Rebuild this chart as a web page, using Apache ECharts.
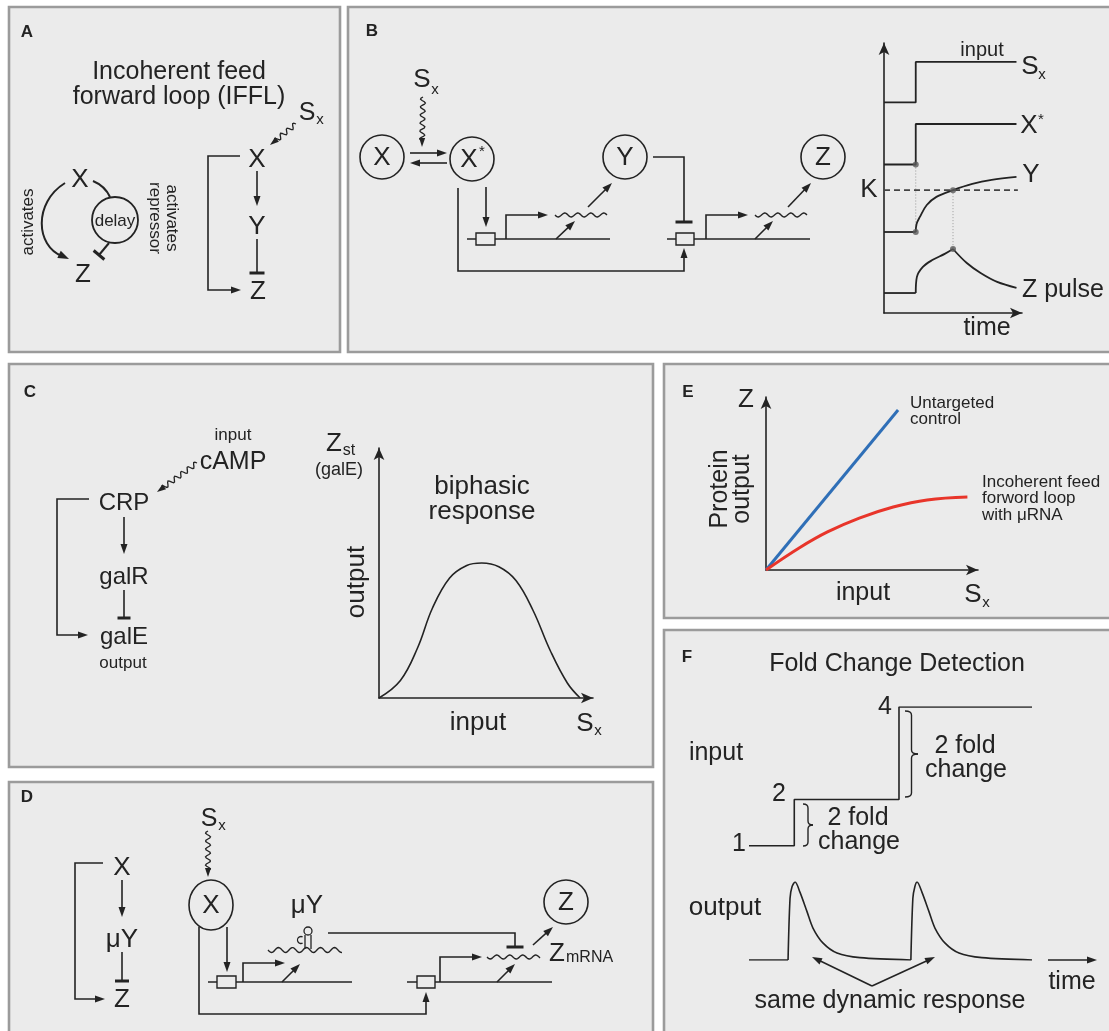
<!DOCTYPE html>
<html><head><meta charset="utf-8">
<script src="https://cdn.jsdelivr.net/npm/echarts@6/dist/echarts.min.js"></script>
<style>html,body{margin:0;padding:0;background:#fff}#c{width:1109px;height:1031px}</style>
</head><body><div id="c"></div>
<script>
// ---------------- DATA ----------------
// Panel B (time courses)
const bInputT = [0, 2.3, 2.3, 9.6];
const bInputV = [7.8, 7.8, 9.3, 9.3];
const bXstarT = [0, 2.3, 2.3, 9.6];
const bXstarV = [5.5, 5.5, 7.0, 7.0];
const bYBaseT = [0, 2.3];
const bYBaseV = [3.0, 3.0];
const bYRiseT = [2.3, 2.36, 2.6, 3.1, 3.8, 5.0, 6.4, 7.8, 9.6];
const bYRiseV = [3.0, 3.3, 3.56, 4.0, 4.3, 4.55, 4.78, 4.93, 5.04];
const bKLevel = 4.55;
const bKRange = [0, 9.7];
const bZBaseT = [0, 2.3];
const bZBaseV = [0.74, 0.74];
const bZRiseT = [2.3, 2.38, 2.8, 3.5, 4.4, 5.0];
const bZRiseV = [0.74, 1.33, 1.7, 1.96, 2.19, 2.37];
const bZDecayT = [5.0, 6.0, 7.0, 8.2, 9.6];
const bZDecayV = [2.37, 1.85, 1.48, 1.15, 0.93];
const bDotT = [2.3, 2.3, 5.0, 5.0];
const bDotV = [5.5, 3.0, 4.55, 2.37];
// Panel C (biphasic response)
const cInput = [0, 1, 1.8, 2.5, 3.3, 4.1, 4.8, 5.6, 6.4, 7.2, 8.0, 8.8, 9.4];
const cOutput = [0, 0.7, 2.0, 3.6, 4.8, 5.3, 5.4, 5.25, 4.7, 3.5, 1.9, 0.6, 0];
// Panel E
const eControlX = [0, 6.23];
const eControlY = [0, 9.25];
const eIfflX = [0, 1.6, 2.9, 4.4, 6.0, 7.6, 9.5];
const eIfflY = [0, 1.3, 2.2, 3.0, 3.64, 4.05, 4.22];
// Panel F
const fInputT = [0, 1.6, 1.6, 5.3, 5.3, 10];
const fInputV = [1, 1, 2, 2, 4, 4];
const fStepLabels = ['1', '2', '4'];
const fOutT = [0, 1.38, 1.45, 1.52, 1.63, 1.80, 2.05, 2.26, 2.61, 3.11, 3.92, 5.72, 5.79, 5.86, 5.94, 6.11, 6.36, 6.57, 6.92, 7.42, 8.23, 10];
const fOutV = [0, 0, 0.79, 0.94, 1.0, 0.87, 0.62, 0.41, 0.22, 0.09, 0.03, 0, 0.79, 0.94, 1.0, 0.87, 0.62, 0.41, 0.22, 0.09, 0.03, 0];

// ---------------- HELPERS ----------------
const INK = '#232323';
const FF = "'Liberation Sans', Arial, Helvetica, sans-serif";
const PANEL_BG = '#ebebeb';
const G = [];
const zip = (a, b) => a.map((v, i) => [v, b[i]]);
function T(str, x, y, size, o = {}) {
  const al = o.align || 'center';
  G.push({type: 'text', x, y, rotation: o.rot || 0, silent: true, z: 5,
    style: {text: str, fill: o.color || INK, font: (o.bold ? 'bold ' : '') + size + 'px ' + FF,
      textAlign: al, align: al, textVerticalAlign: 'middle', verticalAlign: 'middle'}});
}
function L(pts, w = 1.6, o = {}) {
  G.push({type: 'polyline', silent: true, z: 4, shape: {points: pts},
    style: {stroke: o.color || INK, lineWidth: w, fill: 'none', lineDash: o.dash || null}});
}
function head(x, y, ang, len = 10, wid = 7) {
  const bx = x - len * Math.cos(ang), by = y - len * Math.sin(ang);
  const px = -Math.sin(ang) * wid / 2, py = Math.cos(ang) * wid / 2;
  G.push({type: 'polygon', silent: true, z: 4, shape: {points: [[x, y], [bx + px, by + py], [bx - px, by - py]]},
    style: {fill: INK, stroke: 'none'}});
}
function A(pts, w = 1.6, len = 10, wid = 7) {
  const n = pts.length;
  const [x2, y2] = pts[n - 1], [x1, y1] = pts[n - 2];
  const ang = Math.atan2(y2 - y1, x2 - x1);
  const p = pts.slice();
  p[n - 1] = [x2 - len * 0.7 * Math.cos(ang), y2 - len * 0.7 * Math.sin(ang)];
  L(p, w); head(x2, y2, ang, len, wid);
}
function TB(pts, barLen = 15, w = 1.6, bw = 3) {
  L(pts, w);
  const n = pts.length;
  const [x2, y2] = pts[n - 1], [x1, y1] = pts[n - 2];
  const ang = Math.atan2(y2 - y1, x2 - x1);
  const px = -Math.sin(ang) * barLen / 2, py = Math.cos(ang) * barLen / 2;
  L([[x2 + px, y2 + py], [x2 - px, y2 - py]], bw);
}
function wavePts(x1, y1, x2, y2, amp, wl) {
  const dx = x2 - x1, dy = y2 - y1, d = Math.hypot(dx, dy);
  const ux = dx / d, uy = dy / d, nx = -uy, ny = ux;
  const n = Math.ceil(d / 1.2), pts = [];
  for (let i = 0; i <= n; i++) {
    const s = i / n * d, off = amp * Math.sin(2 * Math.PI * s / wl);
    pts.push([x1 + ux * s + nx * off, y1 + uy * s + ny * off]);
  }
  return pts;
}
function W(x1, y1, x2, y2, amp = 2, wl = 13, w = 1.4) { L(wavePts(x1, y1, x2, y2, amp, wl), w); }
function WA(x1, y1, x2, y2, amp = 2.5, wl = 8) {
  const ang = Math.atan2(y2 - y1, x2 - x1), len = 9;
  L(wavePts(x1, y1, x2 - len * 0.8 * Math.cos(ang), y2 - len * 0.8 * Math.sin(ang), amp, wl), 1.3);
  head(x2, y2, ang, len, 6);
}
function circ(cx, cy, r, w = 1.6) {
  G.push({type: 'circle', silent: true, z: 4, shape: {cx, cy, r}, style: {fill: 'none', stroke: INK, lineWidth: w}});
}
function ell(cx, cy, rx, ry, w = 1.6) {
  G.push({type: 'ellipse', silent: true, z: 4, shape: {cx, cy, rx, ry}, style: {fill: 'none', stroke: INK, lineWidth: w}});
}
function box(x, y, w, h) {
  G.push({type: 'rect', silent: true, z: 4, shape: {x, y, width: w, height: h}, style: {fill: PANEL_BG, stroke: INK, lineWidth: 1.4}});
}
function panel(x, y, w, h) {
  G.push({type: 'rect', silent: true, z: -10, shape: {x, y, width: w, height: h}, style: {fill: PANEL_BG, stroke: '#9b9b9b', lineWidth: 2.6}});
}
function bez(x1, y1, cx1, cy1, cx2, cy2, x2, y2, w = 2) {
  const shape = {x1, y1, cpx1: cx1, cpy1: cy1, x2, y2};
  if (cx2 !== null) { shape.cpx2 = cx2; shape.cpy2 = cy2; }
  G.push({type: 'bezierCurve', silent: true, z: 4, shape, style: {fill: 'none', stroke: INK, lineWidth: w}});
}
function brace(x0, y0, y1, tipX, w = 1.4) {
  const xm = (x0 + tipX) / 2, ym = (y0 + y1) / 2, r = 4;
  bez(x0, y0, xm, y0, null, null, xm, y0 + r, w);
  L([[xm, y0 + r], [xm, ym - r]], w);
  bez(xm, ym - r, xm, ym, null, null, tipX, ym, w);
  bez(tipX, ym, xm, ym, null, null, xm, ym + r, w);
  L([[xm, ym + r], [xm, y1 - r]], w);
  bez(xm, y1 - r, xm, y1, null, null, x0, y1, w);
}

// ---------------- PANELS ----------------
panel(9, 7, 331, 345);     // A
panel(348, 7, 780, 345);   // B
panel(9, 364, 644, 403);   // C
panel(9, 782, 644, 280);   // D
panel(664, 364, 470, 254); // E
panel(664, 630, 470, 420); // F

// ----- Panel A -----
T('A', 27, 32, 17, {bold: true});
T('Incoherent feed', 179, 72, 25);
T('forward loop (IFFL)', 179, 97, 25);
T('S', 307, 113, 25); T('x', 320, 120, 15);
WA(296, 124, 270, 145);
T('X', 257, 160, 26); T('Y', 257, 227, 26); T('Z', 258, 292, 26);
A([[257, 171], [257, 206]]);
TB([[257, 239], [257, 273]], 15);
A([[240, 156], [208, 156], [208, 290], [241, 290]]);
// left loop
T('X', 80, 180, 26); T('Z', 83, 275, 26);
bez(65, 183, 33, 203, 36, 246, 62, 256);
head(69, 259, Math.atan2(259 - 250, 69 - 50), 11, 8);
bez(93, 181, 105, 186, null, null, 110, 197);
circ(115, 220, 23, 1.8);
T('delay', 115, 221, 17);
TB([[109, 243], [99, 255]], 14, 2, 3);
T('activates', 28, 222, 17, {rot: Math.PI / 2});
T('activates', 172, 218, 17, {rot: -Math.PI / 2});
T('repressor', 155, 218, 17, {rot: -Math.PI / 2});

// ----- Panel B (diagram) -----
T('B', 372, 31, 17, {bold: true});
T('S', 422, 80, 26); T('x', 435, 90, 15);
WA(423, 97, 422, 147);
circ(382, 157, 22); T('X', 382, 158, 26);
circ(472, 159, 22); T('X', 469, 160, 26); T('*', 482, 152, 15);
circ(625, 157, 22); T('Y', 625, 158, 26);
circ(823, 157, 22); T('Z', 823, 158, 26);
A([[410, 153], [447, 153]]);
A([[447, 163], [410, 163]]);
TB([[653, 157], [684, 157], [684, 222]], 17);
A([[486, 187], [486, 227]]);
L([[467, 239], [610, 239]]); box(476, 233, 19, 12);
A([[506, 239], [506, 215], [548, 215]]);
W(555, 215, 607, 215);
A([[556, 239], [575, 221]]);
A([[588, 207], [612, 183]]);
L([[667, 239], [810, 239]]); box(676, 233, 18, 12);
A([[706, 239], [706, 215], [748, 215]]);
W(755, 215, 807, 215);
A([[755, 239], [773, 221]]);
A([[788, 207], [811, 183]]);
A([[458, 188], [458, 271], [684, 271], [684, 248]]);
// labels of the time plot
T('input', 982, 50, 20);
T('S', 1030, 67, 26); T('x', 1042, 75, 15);
T('X', 1029, 126, 26); T('*', 1041, 120, 15);
T('Y', 1031, 175, 26);
T('K', 869, 190, 26);
T('Z pulse', 1022, 290, 25, {align: 'left'});
T('time', 987, 328, 25);

// ----- Panel C -----
T('C', 30, 392, 17, {bold: true});
T('input', 233, 435, 17);
T('cAMP', 233, 462, 25);
WA(197, 463, 157, 492);
T('CRP', 124, 503, 24);
A([[89, 499], [57, 499], [57, 635], [88, 635]]);
A([[124, 517], [124, 554]]);
T('galR', 124, 577, 24);
TB([[124, 590], [124, 618]], 13);
T('galE', 124, 637, 24);
T('output', 123, 663, 17);
T('Z', 334, 444, 26); T('st', 349, 451, 16);
T('(galE)', 339, 470, 18);
T('biphasic', 482, 487, 26);
T('response', 482, 512, 26);
T('output', 357, 582, 26, {rot: Math.PI / 2});
T('input', 478, 723, 26);
T('S', 585, 724, 26); T('x', 598, 731, 15);

// ----- Panel D -----
T('D', 27, 797, 17, {bold: true});
T('S', 209, 819, 25); T('x', 222, 826, 15);
WA(208, 831, 208, 877);
ell(211, 905, 22, 25); T('X', 211, 906, 26);
T('X', 122, 868, 26);
A([[122, 880], [122, 917]]);
T('\u03bcY', 122, 940, 26);
TB([[122, 952], [122, 981]], 14);
T('Z', 122, 1000, 26);
A([[103, 863], [75, 863], [75, 999], [105, 999]]);
A([[227, 927], [227, 972]]);
L([[208, 982], [352, 982]]); box(217, 976, 19, 12);
A([[243, 982], [243, 963], [285, 963]]);
A([[282, 982], [300, 964]]);
T('\u03bcY', 307, 906, 26);
W(268, 950, 342, 950, 2.5, 14);
L([[305, 949], [305, 935]], 1.3); L([[311, 949], [311, 935]], 1.3);
circ(308, 931, 4, 1.3);
G.push({type: 'arc', silent: true, z: 4, shape: {cx: 301, cy: 940, r: 3.5, startAngle: Math.PI * 0.35, endAngle: Math.PI * 1.65}, style: {fill: 'none', stroke: INK, lineWidth: 1.3}});
TB([[328, 933], [515, 933], [515, 947]], 17);
L([[407, 982], [552, 982]]); box(417, 976, 18, 12);
A([[440, 982], [440, 957], [482, 957]]);
W(487, 957, 540, 957);
A([[497, 982], [515, 964]]);
A([[533, 945], [553, 927]]);
circ(566, 902, 22); T('Z', 566, 903, 26);
T('Z', 557, 954, 26); T('mRNA', 566, 958, 16, {align: 'left'});
A([[199, 927], [199, 1014], [426, 1014], [426, 992]]);

// ----- Panel E -----
T('E', 688, 392, 17, {bold: true});
T('Z', 746, 400, 26);
T('Protein', 720, 489, 25, {rot: Math.PI / 2});
T('output', 742, 489, 25, {rot: Math.PI / 2});
T('input', 863, 593, 25);
T('S', 973, 595, 26); T('x', 986, 603, 15);
T('Untargeted', 910, 403, 17, {align: 'left'});
T('control', 910, 419, 17, {align: 'left'});
T('Incoherent feed', 982, 482, 17, {align: 'left'});
T('forword loop', 982, 498, 17, {align: 'left'});
T('with \u03bcRNA', 982, 515, 17, {align: 'left'});

// ----- Panel F -----
T('F', 687, 657, 17, {bold: true});
T('Fold Change Detection', 897, 664, 25);
T('input', 716, 753, 25);
T(fStepLabels[0], 739, 844, 25);
T(fStepLabels[1], 779, 794, 25);
T(fStepLabels[2], 885, 707, 25);
brace(803, 804, 846, 813);
brace(905, 711, 797, 918);
T('2 fold', 858, 818, 25); T('change', 859, 842, 25);
T('2 fold', 965, 746, 25); T('change', 966, 770, 25);
T('output', 725, 908, 26);
A([[1048, 960], [1097, 960]]);
T('time', 1072, 982, 25);
T('same dynamic response', 890, 1001, 25);
A([[872, 986], [812, 957]]);
A([[872, 986], [935, 957]]);

// ---------------- CHART ----------------
const arrowAxis = (gi, min, max, show) => ({
  type: 'value', gridIndex: gi, min, max, show,
  axisLine: {show, onZero: false, symbol: ['none', 'arrow'], symbolSize: [8, 12], lineStyle: {color: INK, width: 1.6}},
  axisTick: {show: false}, axisLabel: {show: false}, splitLine: {show: false}
});
const lineS = (gi, data, o = {}) => Object.assign({
  type: 'line', xAxisIndex: gi, yAxisIndex: gi, data, showSymbol: false, silent: true,
  lineStyle: {color: INK, width: 1.8}, animation: false
}, o);

const grids = [
  {left: 884, top: 43, width: 138, height: 270},  // B time plot
  {left: 379, top: 448, width: 214, height: 250}, // C
  {left: 766, top: 397, width: 212, height: 173}, // E
  {left: 749, top: 707, width: 283, height: 185}, // F input
  {left: 749, top: 882, width: 283, height: 78}   // F output
].map(g => Object.assign(g, {containLabel: false, outerBoundsMode: 'none', show: false}));

const fOut = zip(fOutT, fOutV);
const option = {
  backgroundColor: '#ffffff',
  animation: false,
  grid: grids,
  xAxis: [arrowAxis(0, 0, 10, true), arrowAxis(1, 0, 10, true), arrowAxis(2, 0, 10, true), arrowAxis(3, 0, 10, false), arrowAxis(4, 0, 10, false)],
  yAxis: [arrowAxis(0, 0, 10, true), arrowAxis(1, 0, 10, true), arrowAxis(2, 0, 10, true), arrowAxis(3, 0, 4, false), arrowAxis(4, 0, 1, false)],
  series: [
    lineS(0, zip(bInputT, bInputV)),
    lineS(0, zip(bXstarT, bXstarV)),
    lineS(0, zip(bYBaseT, bYBaseV)),
    lineS(0, zip(bYRiseT, bYRiseV), {smooth: 0.35}),
    lineS(0, bKRange.map(t => [t, bKLevel]), {lineStyle: {color: '#444', width: 1.6, type: [6, 4]}}),
    lineS(0, zip(bZBaseT, bZBaseV)),
    lineS(0, zip(bZRiseT, bZRiseV), {smooth: 0.35}),
    lineS(0, zip(bZDecayT, bZDecayV), {smooth: 0.35}),
    lineS(0, zip(bDotT.slice(0, 2), bDotV.slice(0, 2)), {lineStyle: {color: '#9a9a9a', width: 1, type: [1, 2]}, z: 1}),
    lineS(0, zip(bDotT.slice(2), bDotV.slice(2)), {lineStyle: {color: '#9a9a9a', width: 1, type: [1, 2]}, z: 1}),
    {type: 'scatter', xAxisIndex: 0, yAxisIndex: 0, data: zip(bDotT, bDotV), symbolSize: 6, silent: true,
      itemStyle: {color: '#5a5a5a'}, z: 5},
    lineS(1, zip(cInput, cOutput), {smooth: 0.4, lineStyle: {color: INK, width: 1.6}}),
    lineS(2, zip(eControlX, eControlY), {lineStyle: {color: '#2f6fb7', width: 3}}),
    lineS(2, zip(eIfflX, eIfflY), {smooth: 0.4, lineStyle: {color: '#e8352a', width: 3}}),
    lineS(3, zip(fInputT, fInputV), {lineStyle: {color: INK, width: 1.6}}),
    lineS(4, fOut.slice(0, 2), {lineStyle: {color: INK, width: 1.6}}),
    lineS(4, fOut.slice(1, 12), {smooth: 0.3, lineStyle: {color: INK, width: 1.6}}),
    lineS(4, fOut.slice(11), {smooth: 0.3, lineStyle: {color: INK, width: 1.6}})
  ],
  graphic: {elements: G}
};
const chart = echarts.init(document.getElementById('c'), null, {renderer: 'canvas'});
chart.setOption(option);
</script>
</body></html>
